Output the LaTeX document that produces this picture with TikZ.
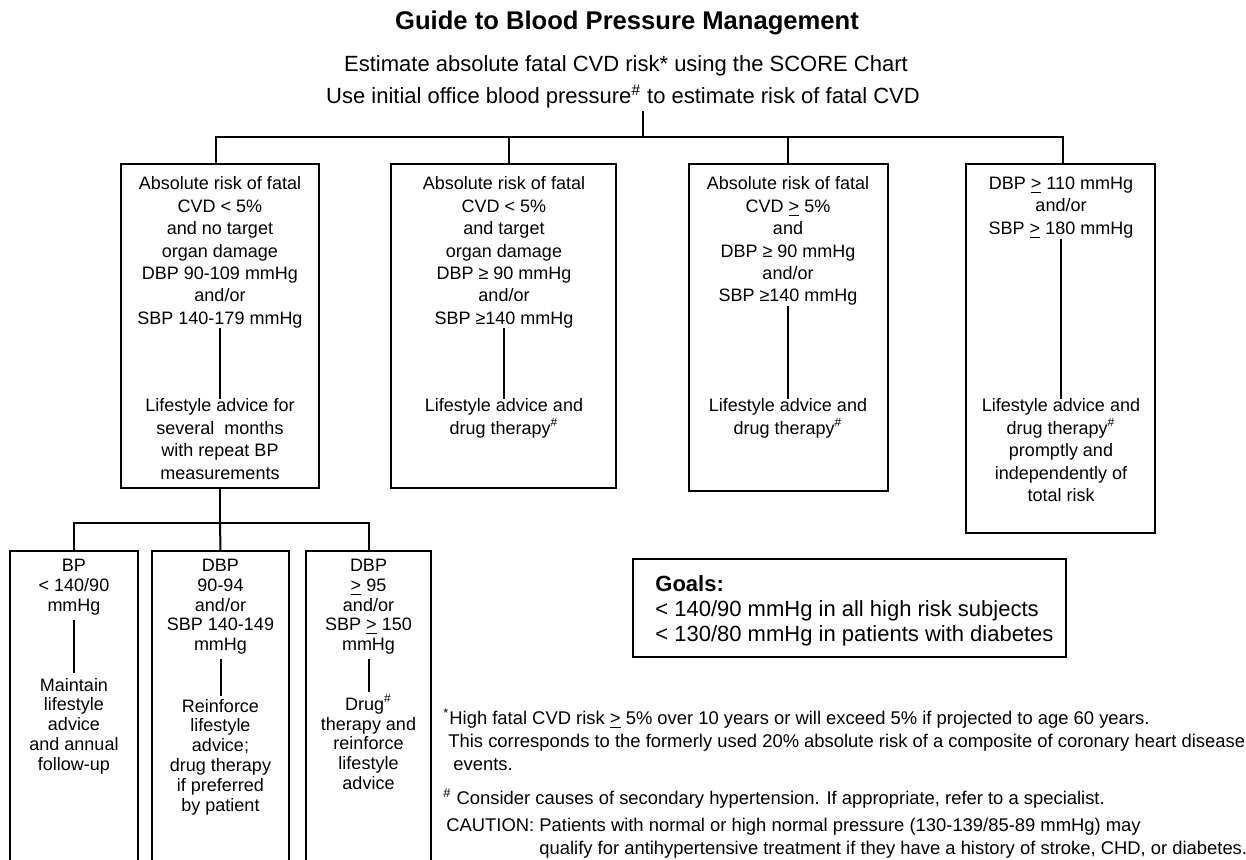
\documentclass[tikz,border=0pt]{standalone}
\usepackage{fontspec}
\setmainfont{Liberation Sans}
\usetikzlibrary{positioning,fit}

\newcommand{\geqline}{\underline{>}}
\newcommand{\hashsup}{\textsuperscript{\#}}

\begin{document}
\begin{tikzpicture}
    [x=0.5pt,y=-0.5pt,
     frame/.style={draw,line width=1pt,inner sep=0pt},
     cond/.style={align=center,inner sep=0pt,anchor=north,font=\fontsize{9}{11.2}\selectfont},
     small/.style={align=center,inner sep=0pt,anchor=north,font=\fontsize{9}{9.9}\selectfont},
     link/.style={line width=1pt},
     note/.style={align=left,inner sep=0pt,anchor=north west,font=\fontsize{9.2}{11.3}\selectfont}]
\useasboundingbox (0,0) rectangle (1246,859);
\fill[white] (0,0) rectangle (1246,859);
%heading
\node[font=\bfseries\fontsize{12.8}{15}\selectfont,anchor=base,inner sep=0pt] (title) at (627,29) {Guide to Blood Pressure Management};
\node[font=\fontsize{11}{13}\selectfont,anchor=base,inner sep=0pt] (sub1) at (626,71) {Estimate absolute fatal CVD risk* using the SCORE Chart};
\node[font=\fontsize{11}{13}\selectfont,anchor=base,inner sep=0pt] (sub2) at (623,103) {Use initial office blood pressure\hashsup{} to estimate risk of fatal CVD};

%top row of boxes
\node[frame,fit={(121,164) (319,488)}] (riskA) {};
\node[frame,fit={(391,164) (616,488)}] (riskB) {};
\node[frame,fit={(689,164) (888,491)}] (riskC) {};
\node[frame,fit={(966,164) (1155,533)}] (riskD) {};

\node[cond] (condA) at (220,176.5) {Absolute risk of fatal\\CVD < 5\%\\and no target\\organ damage\\DBP 90-109 mmHg\\and/or\\SBP 140-179 mmHg};
\node[cond] (actA) at (220,398.5) {Lifestyle advice for\\several\ \ months\\with repeat BP\\measurements};
\node[cond] (condB) at (504,176.5) {Absolute risk of fatal\\CVD < 5\%\\and target\\organ damage\\DBP ≥ 90 mmHg\\and/or\\SBP ≥140 mmHg};
\node[cond] (actB) at (504,398.5) {Lifestyle advice and\\drug therapy\hashsup};
\node[cond] (condC) at (788,176.5) {Absolute risk of fatal\\CVD \geqline{} 5\%\\and\\DBP ≥ 90 mmHg\\and/or\\SBP ≥140 mmHg};
\node[cond] (actC) at (788,398.5) {Lifestyle advice and\\drug therapy\hashsup};
\node[cond] (condD) at (1061,176.5) {DBP \geqline{} 110 mmHg\\and/or\\SBP \geqline{} 180 mmHg};
\node[cond] (actD) at (1061,398.5) {Lifestyle advice and\\drug therapy\hashsup\\promptly and\\independently of\\total risk};

\draw[link] (condA.south) -- (actA.north);
\draw[link] (condB.south) -- (actB.north);
\draw[link] (condC.south) -- (actC.north);
\draw[link] (condD.south) -- (actD.north);

%tree from the heading
\coordinate (stem) at (643,111);
\coordinate (hub) at (643,137);
\draw[link] (stem) -- (hub);
\draw[link] ([xshift=-2pt]riskA.north) |- (hub) -| ([xshift=1.25pt]riskD.north);
\draw[link] ([xshift=2.75pt]riskB.north) |- (hub);
\draw[link] ([xshift=-0.25pt]riskC.north) |- (hub);

%lower row of boxes
\node[frame,fit={(10,551) (138,880)}] (bpA) {};
\node[frame,fit={(152,551) (289,880)}] (bpB) {};
\node[frame,fit={(306,551) (431,880)}] (bpC) {};

\node[small] (lowA) at (74,558.6) {BP\\< 140/90\\mmHg};
\node[small] (keepA) at (74,677.6) {Maintain\\lifestyle\\advice\\and annual\\follow-up};
\node[small] (lowB) at (220.5,558.6) {DBP\\90-94\\and/or\\SBP 140-149\\mmHg};
\node[small] (keepB) at (220.5,698.6) {Reinforce\\lifestyle\\advice;\\drug therapy\\if preferred\\by patient};
\node[small] (lowC) at (368.5,558.6) {DBP\\\geqline{} 95\\and/or\\SBP \geqline{} 150\\mmHg};
\node[small] (keepC) at (368.5,694) {Drug\hashsup\\therapy and\\reinforce\\lifestyle\\advice};

\draw[link,shorten <=2.5pt,shorten >=2.3pt] (lowA.south) -- (keepA.north);
\draw[link,shorten <=2pt,shorten >=1.5pt] (lowB.south) -- (keepB.north);
\draw[link,shorten <=2pt,shorten >=1pt] (lowC.south) -- (keepC.north);

\coordinate (fork) at (220,523);
\draw[link] (riskA.south) -- (fork);
\draw[link] (bpA.north) |- (fork) -| (bpC.north);
\draw[link] (bpB.north) -- (fork);

%goals
\node[frame,fit={(633,559) (1066,657)}] (goals) {};
\node[anchor=north west,align=left,inner sep=0pt,font=\fontsize{11}{12.5}\selectfont] (goaltext) at (655,575) {\textbf{Goals:}\\< 140/90 mmHg in all high risk subjects\\< 130/80 mmHg in patients with diabetes};

%footnotes
\node[note] (starnote) at (443,708) {\textsuperscript{*}High fatal CVD risk \geqline{} 5\% over 10 years or will exceed 5\% if projected to age 60 years.\\\hspace*{2.5pt}This corresponds to the formerly used 20\% absolute risk of a composite of coronary heart disease\\\hspace*{5pt}events.};
\node[note] (hashnote) at (443,788) {\hashsup{} Consider causes of secondary hypertension. If appropriate, refer to a specialist.};
\node[note] (caution) at (446,818) {CAUTION: Patients with normal or high normal pressure (130-139/85-89 mmHg) may\\\hphantom{CAUTION: }qualify for antihypertensive treatment if they have a history of stroke, CHD, or diabetes.};
\end{tikzpicture}
\end{document}
